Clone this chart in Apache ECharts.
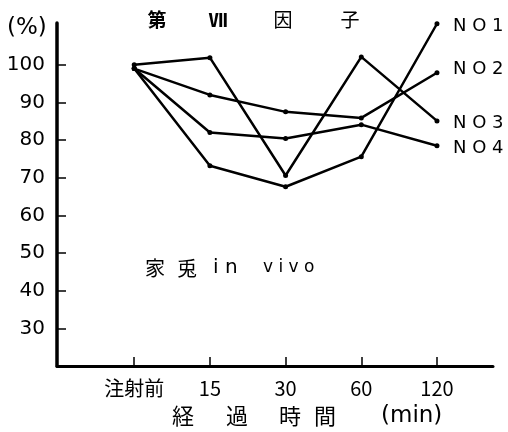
<!DOCTYPE html>
<html><head><meta charset="utf-8">
<script src="https://cdn.jsdelivr.net/npm/echarts@6/dist/echarts.min.js"></script>
<style>html,body{margin:0;padding:0;background:#fff}#c{width:508px;height:432px}</style>
</head><body><div id="c"></div>
<script>
const categories = ['注射前', '15', '30', '60', '120'];
const seriesNames = ['N O 1', 'N O 2', 'N O 3', 'N O 4'];
const no1 = [99, 73.2, 67.6, 75.6, 110.9];
const no2 = [99, 92.0, 87.5, 85.9, 97.9];
const no3 = [100, 101.9, 70.6, 102.1, 85.1];
const no4 = [99, 82.0, 80.4, 84.1, 78.5];
const yTicks = [30, 40, 50, 60, 70, 80, 90, 100];
const labelOffsets = [[0, 3], [0, -3], [0, 2], [0, 3]];

const allData = [no1, no2, no3, no4];
const jp = '"Noto Sans CJK JP", sans-serif';
function t(x, y, text, size, extra) {
  return {type: 'text', x: x, y: y, style: Object.assign({text: text, fontSize: size, fill: '#000', verticalAlign: 'middle', fontFamily: jp}, extra || {})};
}
const chart = echarts.init(document.getElementById('c'), null, {renderer: 'canvas'});
chart.setOption({
  animation: false,
  backgroundColor: '#fff',
  grid: {left: 57, right: 15, top: 23, bottom: 66},
  xAxis: {
    type: 'value', min: -1.02, max: 4.74,
    axisLine: {show: true, onZero: false, lineStyle: {color: '#000', width: 3}},
    axisTick: {show: true, inside: true, length: 9, lineStyle: {color: '#000', width: 1.5}, customValues: [0,1,2,3,4]},
    axisLabel: {customValues: [0,1,2,3,4], formatter: v => categories[Math.round(v)], color: '#000', fontSize: 20, margin: 12, fontFamily: jp},
    splitLine: {show: false}
  },
  yAxis: {
    type: 'value', min: 20, max: 111.1,
    axisLine: {show: true, onZero: false, lineStyle: {color: '#000', width: 3.5}},
    axisTick: {show: true, inside: true, length: 9, lineStyle: {color: '#000', width: 1.5}, customValues: yTicks},
    axisLabel: {customValues: yTicks, color: '#000', fontSize: 20, margin: 12, fontFamily: 'DejaVu Sans'},
    splitLine: {show: false}
  },
  series: allData.map((d, i) => ({
    name: seriesNames[i], type: 'line',
    data: d.map((v, j) => [j, v]),
    symbol: 'circle', symbolSize: 5,
    itemStyle: {color: '#000'},
    lineStyle: {color: '#000', width: 2.5},
    endLabel: {show: true, formatter: seriesNames[i], distance: 16, offset: labelOffsets[i], color: '#000', fontSize: 18, fontFamily: 'DejaVu Sans'}
  })),
  graphic: [
    {type: 'text', left: 7, top: 17, style: {text: '(%)', fontSize: 23, fill: '#000', fontFamily: 'DejaVu Sans'}},
    t(157, 20, '第', 19, {fontWeight: 'bold', align: 'center'}),
    t(218, 20, 'Ⅶ', 19, {fontWeight: 'bold', align: 'center'}),
    t(283, 20, '因', 19, {align: 'center'}),
    t(350, 20, '子', 19, {align: 'center'}),
    t(145, 268, '家', 20),
    t(177, 268, '兎', 20),
    t(213, 268, 'i n', 20, {fontFamily: 'DejaVu Sans'}),
    t(263, 268, 'v i v o', 17, {fontFamily: 'DejaVu Sans'}),
    t(172, 416, '経', 22),
    t(226, 416, '過', 22),
    t(279, 416, '時', 22),
    t(314, 416, '間', 22),
    t(381, 416, '(min)', 23, {fontFamily: 'DejaVu Sans'})
  ]
});
</script></body></html>
